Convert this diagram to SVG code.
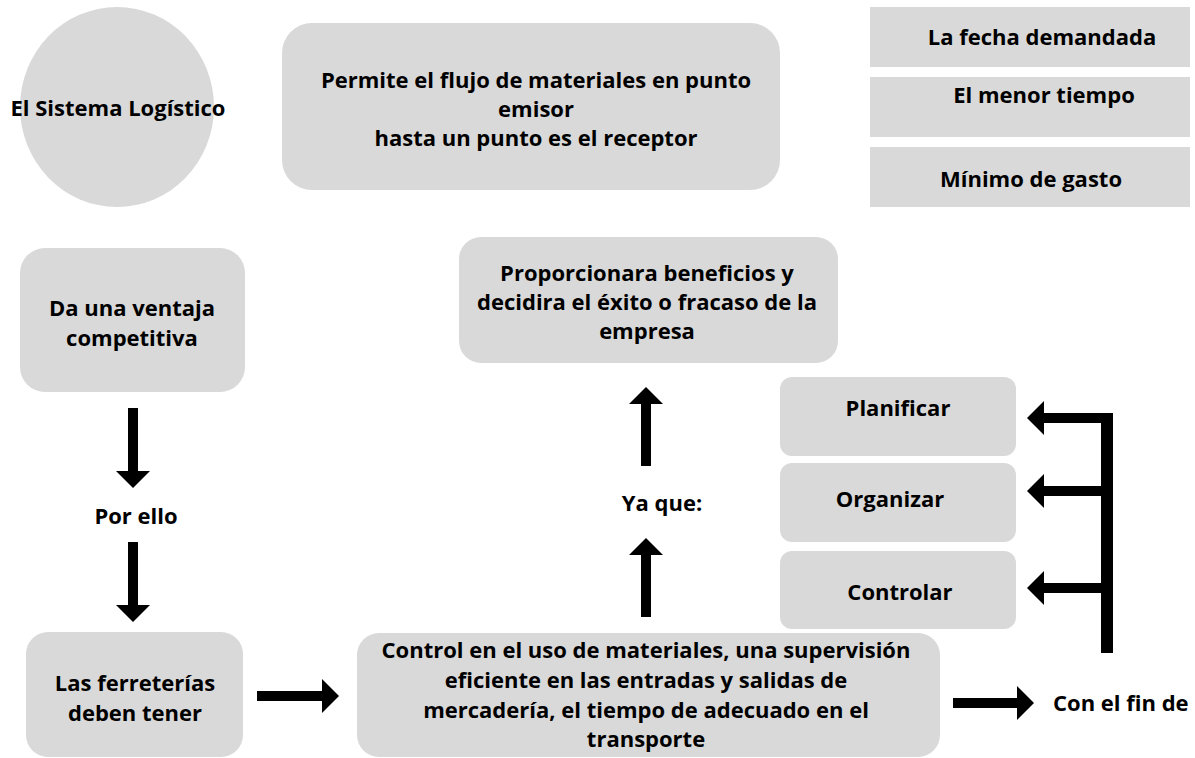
<svg xmlns="http://www.w3.org/2000/svg" width="1195" height="758" viewBox="0 0 1195 758">
<style>
.box{fill:#d9d9d9;}
.t{font-family:"Open Sans","Noto Sans","DejaVu Sans",sans-serif;font-weight:700;font-size:22px;fill:#000;text-anchor:middle;}
.ts{text-anchor:start;}
.arr{stroke:#000;stroke-width:10;fill:none;marker-end:url(#ah);}
.bar{stroke:#000;stroke-width:12;fill:none;}
</style>
<defs>
<marker id="ah" markerUnits="userSpaceOnUse" markerWidth="17" markerHeight="34" viewBox="0 0 17 34" refX="1" refY="17" orient="auto">
<path d="M0,0 L17,17 L0,34 Z" fill="#000"/>
</marker>
</defs>
<rect width="1195" height="758" fill="#fff"/>

<g id="sistema">
<ellipse class="box" cx="117" cy="107" rx="97" ry="100"/>
<text class="t" x="118" y="116">El Sistema Logístico</text>
</g>

<g id="permite">
<rect class="box" x="282" y="23" width="498" height="167" rx="30"/>
<text class="t" x="536" y="88">Permite el flujo de materiales en punto</text>
<text class="t" x="536" y="117">emisor</text>
<text class="t" x="536" y="146">hasta un punto es el receptor</text>
</g>

<g id="fecha">
<rect class="box" x="870" y="7" width="320" height="60"/>
<text class="t" x="1042" y="45">La fecha demandada</text>
</g>
<g id="menor">
<rect class="box" x="870" y="77" width="320" height="60"/>
<text class="t" x="1044" y="103">El menor tiempo</text>
</g>
<g id="minimo">
<rect class="box" x="870" y="147" width="320" height="60"/>
<text class="t" x="1031" y="187">Mínimo de gasto</text>
</g>

<g id="ventaja">
<rect class="box" x="20" y="248" width="225" height="144" rx="25"/>
<text class="t" x="132" y="316">Da una ventaja</text>
<text class="t" x="132" y="346">competitiva</text>
</g>

<g id="porello">
<text class="t" x="136" y="524">Por ello</text>
</g>

<g id="ferreterias">
<rect class="box" x="26" y="632" width="217" height="125" rx="22"/>
<text class="t" x="135" y="691">Las ferreterías</text>
<text class="t" x="135" y="721">deben tener</text>
</g>

<g id="control">
<rect class="box" x="357" y="633" width="583" height="124" rx="22"/>
<text class="t" x="646" y="658">Control en el uso de materiales, una supervisión</text>
<text class="t" x="646" y="688">eficiente en las entradas y salidas de</text>
<text class="t" x="646" y="718">mercadería, el tiempo de adecuado en el</text>
<text class="t" x="646" y="747">transporte</text>
</g>

<g id="yaque">
<text class="t" x="662" y="511">Ya que:</text>
</g>

<g id="proporcionara">
<rect class="box" x="459" y="237" width="379" height="126" rx="22"/>
<text class="t" x="647" y="281">Proporcionara beneficios y</text>
<text class="t" x="647" y="310">decidira el éxito o fracaso de la</text>
<text class="t" x="647" y="339">empresa</text>
</g>

<g id="planificar">
<rect class="box" x="780" y="377" width="236" height="79" rx="12"/>
<text class="t" x="898" y="416">Planificar</text>
</g>
<g id="organizar">
<rect class="box" x="780" y="463" width="236" height="79" rx="12"/>
<text class="t" x="890" y="507">Organizar</text>
</g>
<g id="controlar">
<rect class="box" x="780" y="551" width="236" height="78" rx="12"/>
<text class="t" x="900" y="600">Controlar</text>
</g>

<g id="confin">
<text class="t ts" x="1053" y="711">Con el fin de</text>
</g>

<g id="connectors">
<line class="arr" x1="133" y1="408" x2="133" y2="472"/>
<line class="arr" x1="133" y1="542" x2="133" y2="606"/>
<line class="arr" x1="257" y1="696" x2="323" y2="696"/>
<line class="arr" x1="646" y1="617" x2="646" y2="554"/>
<line class="arr" x1="646" y1="466" x2="646" y2="403"/>
<line class="arr" x1="953" y1="703" x2="1018" y2="703"/>
<line class="bar" x1="1107" y1="413" x2="1107" y2="653"/>
<line class="arr" x1="1107" y1="418" x2="1043" y2="418"/>
<line class="arr" x1="1107" y1="491" x2="1043" y2="491"/>
<line class="arr" x1="1107" y1="588" x2="1043" y2="588"/>
</g>
</svg>
